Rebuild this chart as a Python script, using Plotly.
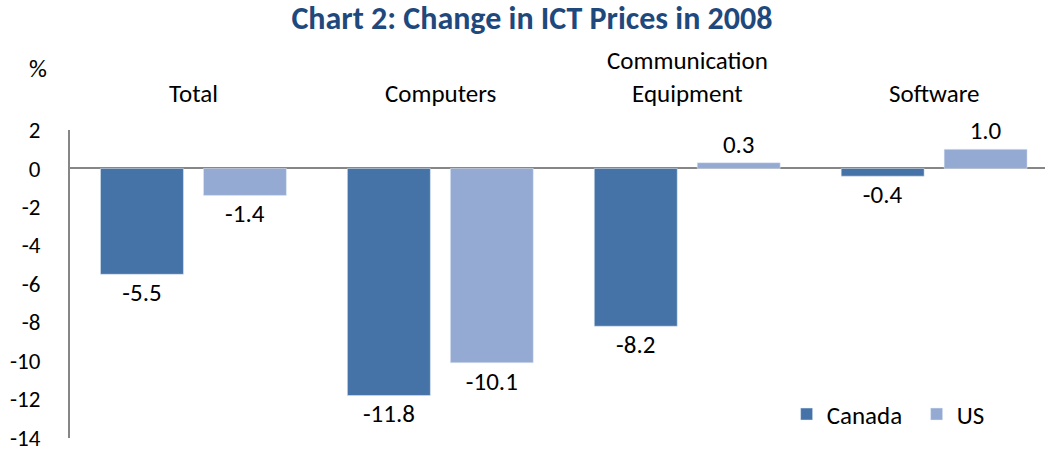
import plotly.graph_objects as go

categories = ["Total", "Computers", "Communication<br>Equipment", "Software"]
canada = [-5.5, -11.8, -8.2, -0.4]
us = [-1.4, -10.1, 0.3, 1.0]
y_ticks = [2, 0, -2, -4, -6, -8, -10, -12, -14]

FONT = "Calibri, Carlito, Lato, sans-serif"
xs = list(range(len(categories)))

fig = go.Figure()
fig.add_trace(go.Bar(
    x=xs, y=canada, name="Canada", marker_color="#4573A7", width=0.336, offset=-0.3765,
    text=[f"{v:.1f}" for v in canada], textposition="outside", cliponaxis=False,
    textfont=dict(size=25, color="black", family=FONT)))
fig.add_trace(go.Bar(
    x=xs, y=us, name="US", marker_color="#95AAD2", width=0.336, offset=0.0405,
    text=[f"{v:.1f}" for v in us], textposition="outside", cliponaxis=False,
    textfont=dict(size=25, color="black", family=FONT)))

for i, c in enumerate(categories):
    fig.add_annotation(x=i, y=1.0, xref="x", yref="paper", yanchor="bottom", yshift=19,
                       text=c, showarrow=False, font=dict(size=25, color="black", family=FONT))

fig.add_annotation(x=-0.033, y=1.2, xref="paper", yref="paper", text="%", showarrow=False,
                   xanchor="center", yanchor="middle",
                   font=dict(size=25, color="black", family=FONT))

fig.update_layout(
    width=1045, height=452,
    margin=dict(l=70, r=0, t=130, b=14, autoexpand=False),
    paper_bgcolor="white", plot_bgcolor="white",
    title=dict(text="<b>Chart 2: Change in ICT Prices in 2008</b>", x=0.509, xanchor="center",
               y=0.96, yanchor="middle",
               font=dict(size=32, color="#1F497D", family=FONT)),
    font=dict(family=FONT, size=25, color="black"),
    showlegend=True,
    legend=dict(orientation="h", x=0.735, y=0.077, xanchor="left", yanchor="middle",
                font=dict(size=25, family=FONT, color="black"), itemwidth=30,
                entrywidth=85, entrywidthmode="pixels",
                bgcolor="rgba(0,0,0,0)"),
    xaxis=dict(range=[-0.5, 3.449], showticklabels=False, showgrid=False, zeroline=False,
               showline=False, fixedrange=True),
    yaxis=dict(range=[-14.01, 2], tickvals=y_ticks, ticktext=[str(v) for v in y_ticks],
               showgrid=False, zeroline=True, zerolinecolor="#868686", zerolinewidth=2,
               showline=True, linecolor="#868686", linewidth=2, ticks="",
               ticklabeloverflow="allow",
               ticklabelstandoff=23, tickfont=dict(size=23, family=FONT, color="black")),
)

fig.write_html("out.html", config={"displayModeBar": False},
               post_script="document.body.style.margin='0';")
